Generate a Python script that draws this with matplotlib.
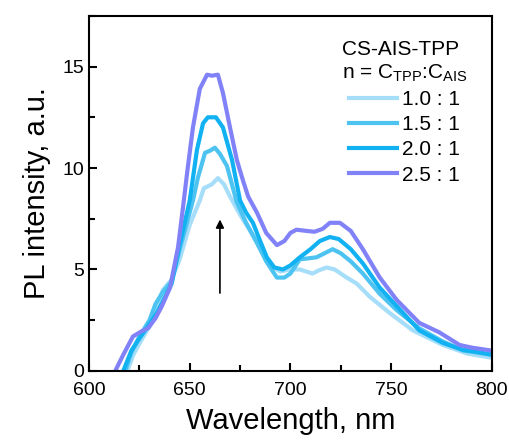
import matplotlib
matplotlib.use("Agg")
import matplotlib.pyplot as plt
from matplotlib.ticker import MultipleLocator

plt.rcParams['font.family'] = ['Liberation Sans', 'DejaVu Sans']

# 스펙트럼 데이터
wl_10 = [619, 622, 625.3, 630, 633, 636.7, 641, 645, 650, 655, 657, 659, 661, 664, 667, 670, 675,
         680, 685, 690, 695, 700, 704.7, 711, 714, 718, 722, 728, 733, 739.5, 749.4, 760.8, 775.7,
         788, 800]
pl_10 = [0, 0.8, 1.4, 2.2, 3.0, 4.0, 4.5, 5.5, 7.2, 8.4, 9.0, 9.1, 9.2, 9.5, 9.2, 8.6, 7.7,
         6.9, 6.0, 5.2, 4.9, 5.0, 5.0, 4.8, 4.95, 5.1, 5.0, 4.6, 4.3, 3.65, 2.85, 2.0, 1.28,
         0.85, 0.65]

wl_15 = [618, 621, 625, 630, 633, 636.7, 641, 645, 651.6, 654, 657.6, 660, 662.5, 665, 668.5,
         673.4, 678, 683, 688, 693.3, 697, 700, 704.7, 709, 713, 717, 721, 725, 730, 736, 744.4,
         752.8, 764, 775.7, 786, 800]
pl_15 = [0, 0.9, 1.7, 2.5, 3.3, 3.9, 4.4, 6.0, 8.4, 9.5, 10.75, 10.85, 11.0, 10.7, 10.1,
         8.3, 7.3, 6.4, 5.4, 4.6, 4.6, 4.8, 5.5, 5.55, 5.6, 5.8, 6.0, 5.8, 5.4, 4.8, 3.8,
         3.0, 2.1, 1.45, 1.0, 0.8]

wl_20 = [617, 621, 625, 630, 633.7, 637, 641, 645, 650, 653.6, 656.6, 659, 663, 666.5, 671,
         675, 678, 681.4, 685, 688.3, 692, 696.3, 700, 704.7, 710, 714.6, 719.6, 724, 730, 736,
         744.4, 752.8, 764, 775.7, 785.6, 792, 800]
pl_20 = [0, 1.0, 1.6, 2.3, 2.86, 3.5, 4.3, 6.2, 8.4, 10.9, 12.2, 12.5, 12.5, 12.0, 10.4,
         8.4, 7.8, 7.3, 6.4, 5.6, 5.1, 5.0, 5.2, 5.6, 6.0, 6.4, 6.6, 6.5, 6.0, 5.3,
         4.1, 3.2, 2.0, 1.38, 1.04, 0.95, 0.8]

wl_25 = [613, 617, 621.8, 626, 629.3, 633, 636.2, 640.2, 644.2, 646.7, 649, 651.6, 655, 658.6,
         661, 664, 666.5, 670, 673.4, 676.4, 679, 683.4, 688, 693.3, 697, 700, 703, 708, 712,
         716, 719.6, 724.6, 730, 736, 744.4, 752.8, 764, 774, 784, 790, 800]
pl_25 = [0, 0.8, 1.7, 1.95, 2.1, 2.6, 3.2, 4.1, 6.1, 8.1, 10.0, 12.0, 13.9, 14.6,
         14.55, 14.6, 13.7, 12.0, 10.4, 9.4, 8.6, 7.8, 6.8, 6.2, 6.4, 6.8, 6.96, 6.9, 6.86,
         7.0, 7.3, 7.3, 6.9, 6.0, 4.6, 3.5, 2.37, 1.9, 1.28, 1.15, 1.0]

labels = ["1.0 : 1", "1.5 : 1", "2.0 : 1", "2.5 : 1"]
colors = ["#a6defa", "#4cc3f0", "#12b2f2", "#8282f8"]

fig = plt.figure(figsize=(5.09, 4.40), dpi=100)
ax = fig.add_axes([0.175, 0.157, 0.791, 0.807])

for wl, pl, lab, c in zip([wl_10, wl_15, wl_20, wl_25], [pl_10, pl_15, pl_20, pl_25], labels, colors):
    ax.plot(wl, pl, color=c, lw=3, label=lab)

# 화살표
ax.annotate("", xy=(665, 7.6), xytext=(665, 3.7),
            arrowprops=dict(arrowstyle="-|>", color="black", lw=1.2, mutation_scale=12))

ax.set_xlim(600, 800)
ax.set_ylim(0, 17.5)
ax.xaxis.set_major_locator(MultipleLocator(50))
ax.xaxis.set_minor_locator(MultipleLocator(25))
ax.yaxis.set_major_locator(MultipleLocator(5))
ax.yaxis.set_minor_locator(MultipleLocator(2.5))
ax.tick_params(which="both", direction="in", top=False, right=False, labelsize=14, width=1.5)
ax.tick_params(which="major", length=6)
ax.tick_params(which="minor", length=4)
ax.tick_params(axis="x", pad=8)
for s in ax.spines.values():
    s.set_linewidth(1.5)

ax.set_xlabel("Wavelength, nm", fontsize=21, labelpad=6)
ax.set_ylabel("PL intensity, a.u.", fontsize=21, labelpad=8)

leg = ax.legend(title="CS-AIS-TPP\nn = C$_{\\mathregular{TPP}}$:C$_{\\mathregular{AIS}}$",
                loc="upper right", frameon=False, fontsize=15, title_fontsize=15,
                handlelength=2.3, handletextpad=0.25, labelspacing=0.3, borderaxespad=0.75)
leg._legend_box.align = "center"

fig.savefig("out.png", dpi=100)
